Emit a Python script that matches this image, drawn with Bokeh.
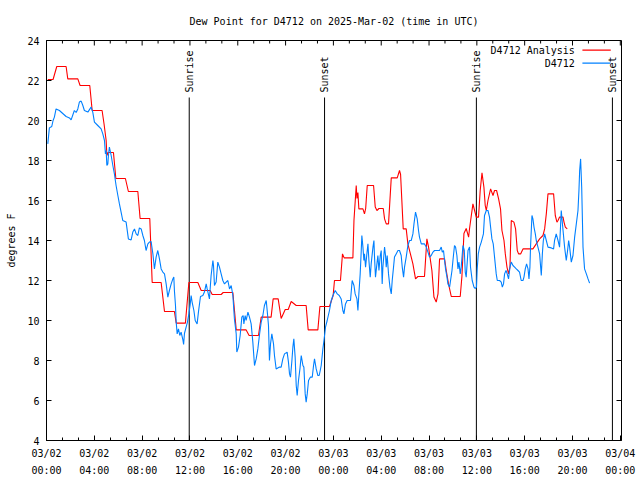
from bokeh.plotting import figure
from bokeh.models import Range1d, FixedTicker, ColumnDataSource
from bokeh.embed import file_html
from bokeh.resources import INLINE
from bokeh.core.properties import value

# ---- data (hours since 2025-03-02 00:00 UTC, degrees F) ----
analysis_hours = [0.11, 0.55, 0.86, 1.64, 1.78, 2.62, 2.81, 3.62, 3.82, 4.65, 4.82, 4.99, 5.05, 5.15,
                  5.60, 5.80, 6.60, 6.85, 7.64, 7.83, 8.64, 8.84, 9.59, 9.87, 10.70, 10.85, 11.62, 11.91,
                  12.66, 12.94, 13.69, 13.86, 14.61, 14.78, 15.59, 15.87, 16.70, 16.95, 17.73, 17.96,
                  18.79, 18.96, 19.38, 19.63, 19.97, 20.22, 20.47, 20.89, 21.72, 21.89, 22.70, 22.87,
                  23.67, 23.98, 24.09, 24.59, 24.76, 24.90, 25.63, 25.72, 25.91, 25.97, 26.05, 26.13,
                  26.47, 26.60, 26.70, 26.83, 27.36, 27.50, 27.64, 27.81, 28.17, 28.28, 28.42, 28.61,
                  28.84, 29.34, 29.53, 29.62, 29.84, 30.09, 30.23, 30.51, 30.65, 30.87, 31.07, 31.62,
                  31.82, 31.96, 32.24, 32.41, 32.60, 32.75, 32.88, 33.30, 33.44, 33.63, 33.86, 34.61,
                  34.75, 34.92, 35.11, 35.31, 35.39, 35.67, 35.81, 35.95, 36.14, 36.28, 36.43, 36.59,
                  36.70, 36.79, 36.93, 37.15, 37.35, 37.48, 37.65, 37.82, 37.98, 38.10, 38.27, 38.38,
                  38.52, 38.65, 38.77, 38.88, 39.10, 39.24, 39.38, 39.49, 39.66, 39.86, 40.69, 40.97,
                  41.25, 41.53, 41.67, 41.81, 41.95, 42.42, 42.56, 42.70, 42.79, 42.92, 43.21, 43.29,
                  43.40, 43.56]
analysis_dewpt = [22.05, 22.05, 22.7, 22.7, 22.08, 22.08, 21.75, 21.75, 20.5, 20.5, 19.8, 19.0, 18.25, 18.4,
                  18.4, 17.1, 17.1, 16.45, 16.45, 15.1, 15.1, 11.9, 11.9, 10.45, 10.45, 9.87, 9.87, 11.9,
                  11.9, 11.5, 11.5, 11.3, 11.3, 11.4, 11.4, 9.53, 9.53, 9.25, 9.25, 10.17,
                  10.17, 11.08, 11.08, 10.1, 10.55, 10.55, 10.95, 10.75, 10.75, 9.53, 9.53, 10.7,
                  10.7, 11.25, 12.0, 12.0, 13.33, 13.13, 13.13, 15.0, 16.75, 16.1, 16.4, 15.58,
                  15.58, 15.33, 15.6, 16.75, 16.75, 15.67, 15.5, 15.6, 15.6, 15.08, 14.83, 14.83,
                  17.13, 17.13, 17.5, 17.3, 14.58, 14.58, 13.83, 13.17, 12.83, 12.08, 12.2, 12.2,
                  14.08, 13.67, 12.5, 11.17, 10.92, 11.33, 13.08, 13.08, 12.5, 11.83, 11.2, 11.2,
                  12.2, 14.35, 14.6, 14.17, 14.6, 15.83, 15.5, 15.17, 15.17, 16.5, 17.38, 16.67,
                  15.75, 15.5, 16.0, 16.58, 16.25, 16.5, 16.5, 16.08, 15.58, 14.5, 14.0, 13.33,
                  12.67, 12.33, 12.67, 15.0, 14.92, 14.58, 13.5, 13.33, 13.33, 13.58, 13.58, 13.83,
                  14.08, 14.25, 14.58, 15.33, 16.33, 16.33, 15.25, 14.92, 15.0, 15.17, 15.17, 14.92,
                  14.67, 14.58]

obs_hours = [0.11, 0.24, 0.44, 0.55, 0.66, 0.80, 1.08, 1.36, 1.64, 1.92, 2.06, 2.33, 2.48, 2.62, 2.75,
             2.90, 3.04, 3.17, 3.46, 3.73, 3.87, 4.01, 4.29, 4.57, 4.71, 4.85, 4.93, 4.99, 5.05, 5.13,
             5.18, 5.26, 5.41, 5.55, 5.68, 5.82, 5.97, 6.10, 6.24, 6.38, 6.66, 6.85, 7.08, 7.22, 7.36,
             7.50, 7.64, 7.77, 7.92, 8.06, 8.19, 8.33, 8.48, 8.61, 8.75, 8.90, 9.03, 9.17, 9.31, 9.45,
             9.59, 9.73, 9.87, 10.01, 10.15, 10.28, 10.43, 10.57, 10.65, 10.70, 10.79, 10.85, 10.93,
             11.04, 11.15, 11.26, 11.41, 11.47, 11.54, 11.68, 11.79, 11.91, 12.02, 12.10, 12.18,
             12.33, 12.44, 12.60, 12.71, 12.88, 13.08, 13.21, 13.36, 13.44, 13.63, 13.77, 13.92,
             13.97, 14.05, 14.19, 14.33, 14.47, 14.61, 14.75, 14.89, 15.03, 15.17, 15.31, 15.45,
             15.59, 15.72, 15.87, 15.92, 16.06, 16.20, 16.34, 16.45, 16.51, 16.62, 16.70, 16.85,
             16.98, 17.12, 17.26, 17.40, 17.54, 17.68, 17.82, 17.96, 18.10, 18.23, 18.38, 18.46,
             18.57, 18.65, 18.74, 18.85, 18.99, 19.07, 19.21, 19.49, 19.63, 19.77, 19.91, 20.13,
             20.24, 20.33, 20.41, 20.53, 20.61, 20.69, 20.80, 20.89, 20.97, 21.08, 21.20, 21.31,
             21.45, 21.53, 21.64, 21.72, 21.81, 21.92, 22.08, 22.23, 22.34, 22.42, 22.56, 22.70,
             22.81, 22.90, 22.98, 23.12, 23.21, 23.34, 23.48, 23.67, 23.82, 23.96, 24.15, 24.32,
             24.49, 24.65, 24.79, 24.88, 25.01, 25.15, 25.43, 25.57, 25.72, 25.82, 25.97, 26.05,
             26.13, 26.24, 26.33, 26.38, 26.47, 26.55, 26.60, 26.69, 26.80, 26.89, 26.97, 27.08,
             27.16, 27.31, 27.39, 27.44, 27.52, 27.64, 27.72, 27.81, 27.92, 28.00, 28.08, 28.14,
             28.28, 28.36, 28.42, 28.50, 28.61, 28.73, 28.84, 28.92, 29.03, 29.11, 29.25, 29.40,
             29.53, 29.67, 29.76, 29.87, 29.95, 30.09, 30.23, 30.37, 30.51, 30.65, 30.74, 30.87,
             31.01, 31.12, 31.20, 31.35, 31.62, 31.77, 31.91, 32.04, 32.18, 32.33, 32.46, 32.74,
             32.88, 33.02, 33.11, 33.21, 33.30, 33.38, 33.50, 33.58, 33.72, 33.80, 33.92, 34.00,
             34.13, 34.22, 34.33, 34.42, 34.50, 34.61, 34.69, 34.84, 34.95, 35.03, 35.11, 35.26,
             35.39, 35.47, 35.61, 35.76, 35.87, 35.97, 36.03, 36.12, 36.23, 36.37, 36.55, 36.64,
             36.79, 36.93, 37.06, 37.15, 37.26, 37.37, 37.48, 37.62, 37.71, 37.90, 38.04, 38.13,
             38.23, 38.32, 38.44, 38.54, 38.65, 38.77, 38.88, 39.02, 39.16, 39.30, 39.44, 39.57,
             39.71, 39.86, 39.94, 40.05, 40.16, 40.28, 40.36, 40.44, 40.49, 40.61, 40.69, 40.78,
             40.89, 40.97, 41.11, 41.25, 41.39, 41.48, 41.56, 41.67, 41.81, 41.95, 42.23, 42.42,
             42.50, 42.64, 42.79, 42.92, 43.06, 43.21, 43.34, 43.48, 43.59, 43.68, 43.76, 43.90,
             44.04, 44.18, 44.32, 44.46, 44.54, 44.60, 44.68, 44.77, 44.88, 45.01, 45.16, 45.30,
             45.43]
obs_dewpt = [18.83, 19.63, 19.7, 20.0, 20.17, 20.58, 20.5, 20.35, 20.2, 20.13, 20.03, 20.5, 20.4, 20.58, 20.92,
             20.97, 20.75, 20.5, 20.42, 20.67, 20.42, 19.92, 19.75, 19.58, 19.33, 19.0, 18.33, 18.5, 17.75, 17.83,
             18.25, 18.67, 18.25, 17.75, 17.33, 16.75, 16.25, 15.83, 15.42, 15.0, 14.92, 14.08, 14.03, 14.42, 14.58,
             14.33, 14.25, 14.63, 14.58, 14.25, 14.0, 13.5, 13.83, 13.92, 13.95, 13.33, 12.58, 13.17, 13.5, 13.08,
             12.58, 12.42, 12.33, 11.83, 11.17, 11.5, 11.83, 12.08, 12.17, 11.5, 10.75, 9.92, 9.33,
             9.58, 9.25, 9.42, 9.03, 8.8, 9.35, 9.67, 9.92, 10.33, 10.8, 11.25, 10.92,
             10.5, 10.0, 9.83, 10.42, 11.2, 11.25, 11.42, 11.83, 11.58, 11.08, 12.25, 13.0,
             12.75, 11.75, 11.92, 12.92, 12.67, 12.33, 12.0, 11.83, 11.92, 12.0, 11.58, 11.75,
             11.25, 10.08, 9.33, 8.42, 8.67, 9.25, 10.17, 10.25, 9.83, 10.25, 10.0, 10.42,
             10.17, 9.83, 8.92, 7.75, 8.08, 8.58, 9.3, 9.92, 10.25, 10.75, 11.0, 10.5,
             9.75, 8.0, 8.83, 9.33, 8.83, 8.25, 7.58, 7.67, 7.67, 8.08, 8.33, 8.42,
             7.92, 7.33, 7.17, 8.0, 8.67, 9.08, 8.17, 6.75, 6.25, 7.0, 7.58, 8.25,
             7.75, 7.67, 6.33, 5.92, 6.33, 7.0, 7.17, 7.17, 7.75, 8.08, 7.58, 7.25,
             7.25, 7.5, 7.75, 8.58, 9.0, 9.67, 10.0, 10.5, 11.0, 11.25, 11.5, 11.33,
             11.25, 11.08, 10.5, 10.33, 10.83, 11.0, 11.0, 12.0, 11.75, 11.33, 11.08, 10.5,
             11.33, 12.33, 13.5, 14.25, 13.67, 13.0, 13.33, 12.67, 13.33, 13.83, 13.0, 12.17,
             12.83, 13.67, 14.0, 13.17, 12.17, 12.83, 13.25, 12.5, 13.25, 13.5, 11.83, 12.67,
             13.67, 13.25, 12.67, 13.25, 12.33, 11.67, 11.33, 12.0, 12.67, 13.17, 13.33, 13.5,
             13.5, 13.25, 12.67, 12.17, 12.67, 13.17, 13.75, 14.0, 14.0, 14.33, 14.83, 15.42,
             15.08, 14.5, 14.17, 13.83, 13.83, 13.67, 13.42, 13.17, 13.25, 13.42, 13.5, 13.5,
             13.5, 13.67, 13.42, 13.5, 13.0, 12.58, 12.17, 11.83, 11.67, 12.0, 12.5, 13.0,
             13.75, 13.67, 13.25, 12.58, 12.92, 12.33, 12.67, 13.75, 13.5, 12.42, 12.17, 13.5,
             13.67, 12.67, 12.0, 11.67, 11.6, 11.67, 12.58, 13.33, 13.67, 13.92, 14.33, 15.25,
             15.5, 15.5, 15.17, 14.67, 14.08, 13.83, 13.17, 12.33, 12.0, 12.0, 11.92, 11.67,
             11.83, 12.33, 12.5, 12.33, 12.08, 12.67, 12.92, 12.75, 12.67, 12.58, 12.5, 12.42,
             12.0, 12.0, 12.17, 12.58, 12.83, 12.58, 12.08, 12.67, 13.67, 15.25, 15.08, 14.67,
             14.33, 14.0, 13.67, 13.33, 12.25, 13.33, 14.0, 14.33, 14.0, 13.67, 13.63, 13.58,
             14.0, 14.33, 14.0, 13.67, 15.5, 14.5, 13.67, 13.0, 13.5, 14.0, 13.67, 12.92,
             13.25, 14.17, 14.83, 15.5, 16.5, 17.5, 18.08, 16.67, 13.67, 12.58, 12.33, 12.08,
             11.87]

tick_hours = [0, 4, 8, 12, 16, 20, 24, 28, 32, 36, 40, 44, 48]
tick_labels = ["03/02\n00:00", "03/02\n04:00", "03/02\n08:00", "03/02\n12:00", "03/02\n16:00",
               "03/02\n20:00", "03/03\n00:00", "03/03\n04:00", "03/03\n08:00", "03/03\n12:00",
               "03/03\n16:00", "03/03\n20:00", "03/04\n00:00"]
y_ticks = [4, 6, 8, 10, 12, 14, 16, 18, 20, 22, 24]

sun_hours = [11.94, 23.26, 35.96, 47.34]
sun_labels = ["Sunrise", "Sunset", "Sunrise", "Sunset"]

series_names = ["D4712 Analysis", "D4712"]
series_colors = ["#ff0000", "#0080ff"]

TITLE = "Dew Point for D4712 on 2025-Mar-02 (time in UTC)"

X_START, X_END = 0.0, 48.1
Y_START, Y_END = 4, 24
FONT = "DejaVu Sans Mono"
FS = "10px"

p = figure(width=640, height=480, x_range=Range1d(X_START, X_END), y_range=Range1d(Y_START, Y_END),
           output_backend="svg", toolbar_location=None,
           min_border_left=46, min_border_right=19, min_border_top=40, min_border_bottom=40,
           title=TITLE)
p.title.align = "center"
p.title.text_font = FONT
p.title.text_font_size = FS
p.title.text_font_style = "normal"
p.title.text_color = "black"
p.title.standoff = 27

p.grid.visible = False
p.outline_line_color = "black"
p.background_fill_color = "white"
p.border_fill_color = "white"

minor_x = [h + d for h in tick_hours[:-1] for d in (4 / 3, 8 / 3)]

xa = p.xaxis[0]
xa.ticker = FixedTicker(ticks=tick_hours, minor_ticks=minor_x)
xa.major_label_overrides = {h: l for h, l in zip(tick_hours, tick_labels)}
ya = p.yaxis[0]
ya.ticker = FixedTicker(ticks=y_ticks)
ya.axis_label = "degrees F"

for ax in (xa, ya):
    ax.axis_line_color = "black"
    ax.major_tick_line_color = "black"
    ax.minor_tick_line_color = "black"
    ax.major_tick_in = 5
    ax.major_tick_out = 0
    ax.minor_tick_in = 3
    ax.minor_tick_out = 0
    ax.major_label_text_font = FONT
    ax.major_label_text_font_size = FS
    ax.major_label_text_color = "black"
    ax.axis_label_text_font = FONT
    ax.axis_label_text_font_size = FS
    ax.axis_label_text_font_style = "normal"
    ax.axis_label_text_color = "black"
xa.major_label_text_line_height = 1.6
xa.major_label_standoff = 7
ya.major_label_standoff = 7
ya.axis_label_standoff = 7

# mirrored tick marks on the top and right edges (gnuplot style)
p.ray(x=tick_hours, y=[Y_END] * len(tick_hours), length=5, length_units="screen",
      angle=-1.5708, line_color="black", line_width=1)
p.ray(x=minor_x, y=[Y_END] * len(minor_x), length=3, length_units="screen",
      angle=-1.5708, line_color="black", line_width=1)
p.ray(x=[X_END] * len(y_ticks), y=y_ticks, length=5, length_units="screen",
      angle=3.14159, line_color="black", line_width=1)

# sunrise / sunset markers
sun_src = ColumnDataSource(dict(h=sun_hours, lab=sun_labels))
p.segment(x0="h", y0=Y_START, x1="h", y1=21.15, source=sun_src, line_color="black", line_width=1)
p.text(x="h", y=21.4, text="lab", source=sun_src, angle=1.5708, text_align="left",
       text_baseline="middle", text_font=value(FONT), text_font_size=FS, text_color="black")

# data lines
p.line(analysis_hours, analysis_dewpt, line_color=series_colors[0], line_width=1.1)
p.line(obs_hours, obs_dewpt, line_color=series_colors[1], line_width=1.1)

# key (top right, gnuplot style: text then sample line)
key_src = ColumnDataSource(dict(x=[44.2, 44.2], y=[23.52, 22.87], name=series_names,
                                x0=[44.83, 44.83], x1=[47.2, 47.2], col=series_colors))
p.text(x="x", y="y", text="name", source=key_src, text_align="right", text_baseline="middle",
       text_font=value(FONT), text_font_size=FS, text_color="black")
p.segment(x0="x0", y0="y", x1="x1", y1="y", source=key_src, line_color="col", line_width=1.1)

open("out.html", "w").write(file_html(p, INLINE))
